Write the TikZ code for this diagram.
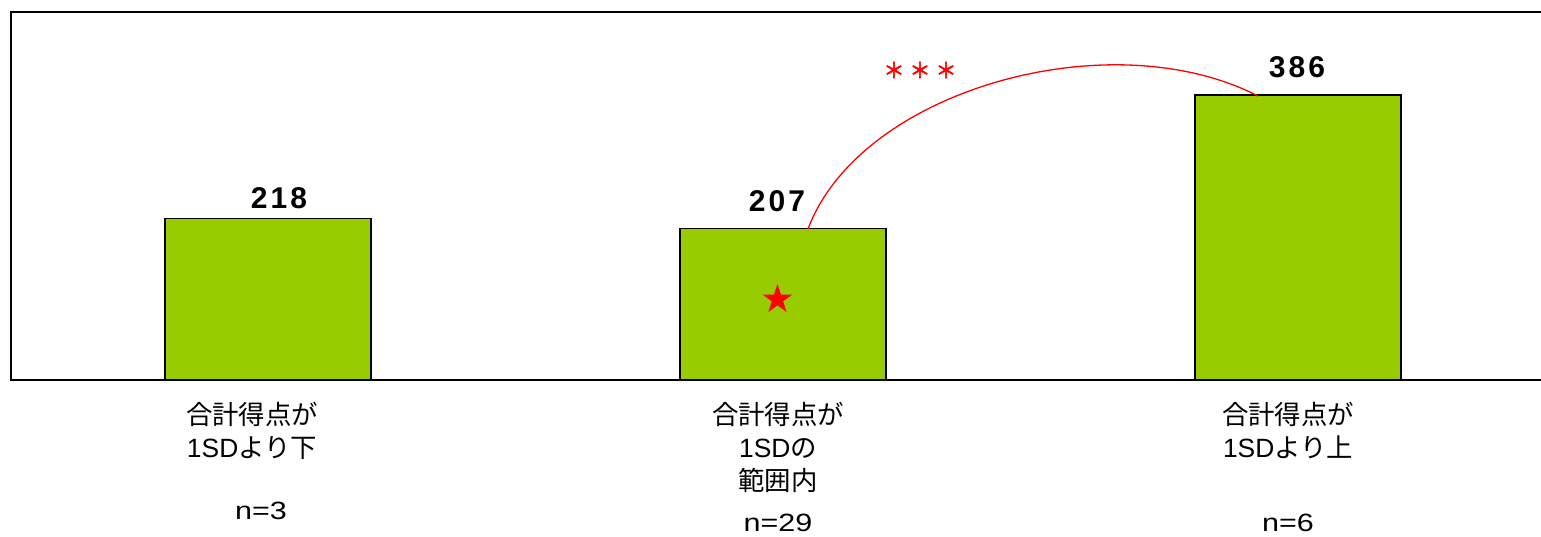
\documentclass[tikz,border=0pt]{standalone}
\usepackage{fontspec}
\setmainfont{Liberation Sans}
\newfontfamily\jp{Noto Sans CJK JP}
\newfontfamily\jpbold[FakeBold=3]{Noto Sans CJK JP}
\newfontfamily\wide[FakeStretch=1.22]{Liberation Sans}
\newfontfamily\sym{DejaVu Sans}
\usetikzlibrary{calc}
\definecolor{bargreen}{HTML}{99CC00}
\begin{document}
\begin{tikzpicture}[x=1pt,y=-1pt,
  bar/.style={draw=black,line width=1.5pt,fill=bargreen,inner sep=0pt,minimum width=206pt,anchor=south},
  val/.style={font=\bfseries\fontsize{30}{30}\selectfont,inner sep=0pt},
  cat/.style={font=\fontsize{26.4}{26.4}\selectfont,inner sep=0pt,anchor=base},
  nlab/.style={font=\wide\fontsize{25}{25}\selectfont,inner sep=0pt,anchor=base}]
\useasboundingbox (0,0) rectangle (1541,536);
\fill[white] (0,0) rectangle (1541,536);
% bars
\node[bar,minimum height=161pt] (b1) at (268,380) {};
\node[bar,minimum height=151pt] (b2) at (783,380) {};
\node[bar,minimum height=284.5pt] (b3) at (1298,380) {};
% frame
\draw[line width=1.5pt] (1541,12) -- (11,12) -- (11,380) -- (1541,380);
% values
\node[val] (v1) at (279,198) {2\kern3pt1\kern3pt8};
\node[val] (v2) at (777,201) {2\kern3pt0\kern3pt7};
\node[val] (v3) at (1297,67) {3\kern3pt8\kern3pt6};
% star
\node[text=red,font=\sym\fontsize{39}{39}\selectfont,inner sep=0pt] (star) at (778,298) {★};
% significance
\coordinate (c1) at (808,229);
\coordinate (c2) at (1258,96);
\draw[red,line width=1.3pt] (c1) .. controls (860,90) and (1110,20) .. (c2);
\node[text=red,font=\jpbold\fontsize{21}{21}\selectfont,inner sep=0pt] (sig) at (920,70) {＊\kern5pt＊\kern5pt＊};
% categories
\node[cat] (t1a) at (252,424) {\jp 合計得点が};
\node[cat] (t1b) at (252,457) {1SD{\jp より下}};
\node[cat] (t2a) at (778,424) {\jp 合計得点が};
\node[cat] (t2b) at (778,457) {1SD{\jp の}};
\node[cat] (t2c) at (778,490) {\jp 範囲内};
\node[cat] (t3a) at (1288,424) {\jp 合計得点が};
\node[cat] (t3b) at (1288,457) {1SD{\jp より上}};
\node[nlab] (n1) at (261,519) {n=3};
\node[nlab] (n2) at (778,531) {n=29};
\node[nlab] (n3) at (1288,531) {n=6};
\end{tikzpicture}
\end{document}
